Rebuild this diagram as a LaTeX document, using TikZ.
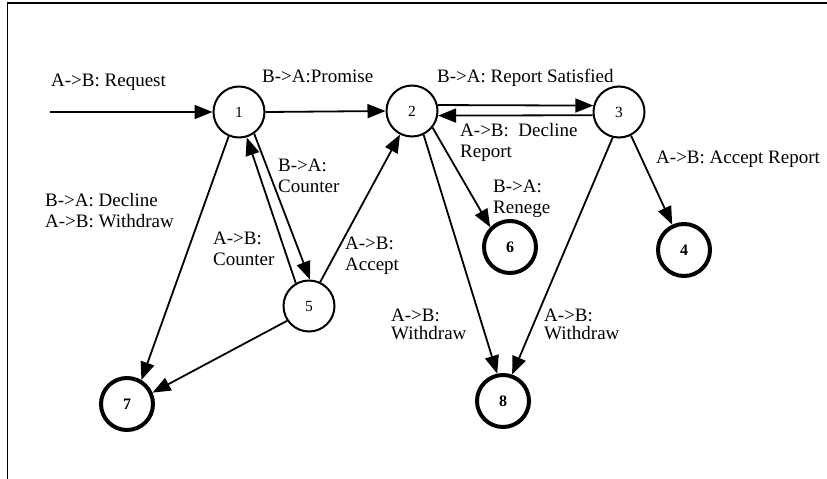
\documentclass[tikz,border=0pt]{standalone}
\usepackage{fontspec}
\setmainfont{Liberation Serif}
\usetikzlibrary{arrows.meta}
\begin{document}
\begin{tikzpicture}[x=1pt,y=-1pt,
  state/.style={circle,draw,line width=2pt,minimum size=51pt,inner sep=0pt,
    font=\fontsize{15.5}{15.5}\selectfont},
  final/.style={state,line width=4pt,minimum size=52pt,
    font=\fontsize{16}{16}\selectfont\bfseries},
  trans/.style={line width=1.8pt,-{Triangle[length=18pt,width=14pt]}},
  lbl/.style={anchor=base west,inner sep=0pt,align=left,
    font=\fontsize{19}{20.5}\selectfont}]
\useasboundingbox (0,0) rectangle (827,479);
% frame
\draw[line width=1.6pt] (7.5,479) -- (7.5,3) -- (827,3);
% states
\node[state] (n1) at (239,112) {1};
\node[state] (n2) at (412,111) {2};
\node[state] (n3) at (619,112) {3};
\node[state] (n5) at (309,306) {5};
\node[final] (n4) at (684,250) {4};
\node[final] (n6) at (510,247) {6};
\node[final] (n7) at (127,404) {7};
\node[final] (n8) at (503,401) {8};
\coordinate (start) at (50,112);
% transitions
\draw[trans] (start) -- (n1.west);
\draw[trans] (n1.east) -- (n2.west);
\draw[trans] (n2.13) -- (n3.166);
\draw[trans] (n3.-173) -- (n2.-10);
\draw[trans] (n3.-63) -- (n4.115);
\draw[trans] (n2.-39) -- (n6.135);
\draw[trans] (n2.-64) -- (n8.102);
\draw[trans] (n3.-104) -- (n8.71);
\draw[trans] (n1.-55) -- (n5.88);
\draw[trans] (n5.120) -- (n1.-73);
\draw[trans] (n5.65) -- (n2.-117);
\draw[trans] (n1.-113) -- (n7.59);
\draw[trans] (n5.-146) -- (n7.24);
% labels (multi-line ones sit on the baseline of their last line)
\node[lbl] (l1) at (51,86) {A->B: Request};
\node[lbl] (l2) at (262,82) {B->A:Promise};
\node[lbl] (l3) at (437,82) {B->A: Report Satisfied};
\node[lbl] (l4) at (460,157) {A->B:\ \ Decline\\Report};
\node[lbl] (l5) at (656,163) {A->B: Accept Report};
\node[lbl] (l6) at (493,213) {B->A:\\Renege};
\node[lbl] (l7) at (278,192) {B->A:\\Counter};
\node[lbl] (l8) at (45,227) {B->A: Decline\\A->B: Withdraw};
\node[lbl] (l9) at (213,265) {A->B:\\Counter};
\node[lbl] (l10) at (345,270) {A->B:\\Accept};
\node[lbl] (l11) at (391,339.5) {A->B:\\[-2pt]Withdraw};
\node[lbl] (l12) at (544,339.5) {A->B:\\[-2pt]Withdraw};
\end{tikzpicture}
\end{document}
